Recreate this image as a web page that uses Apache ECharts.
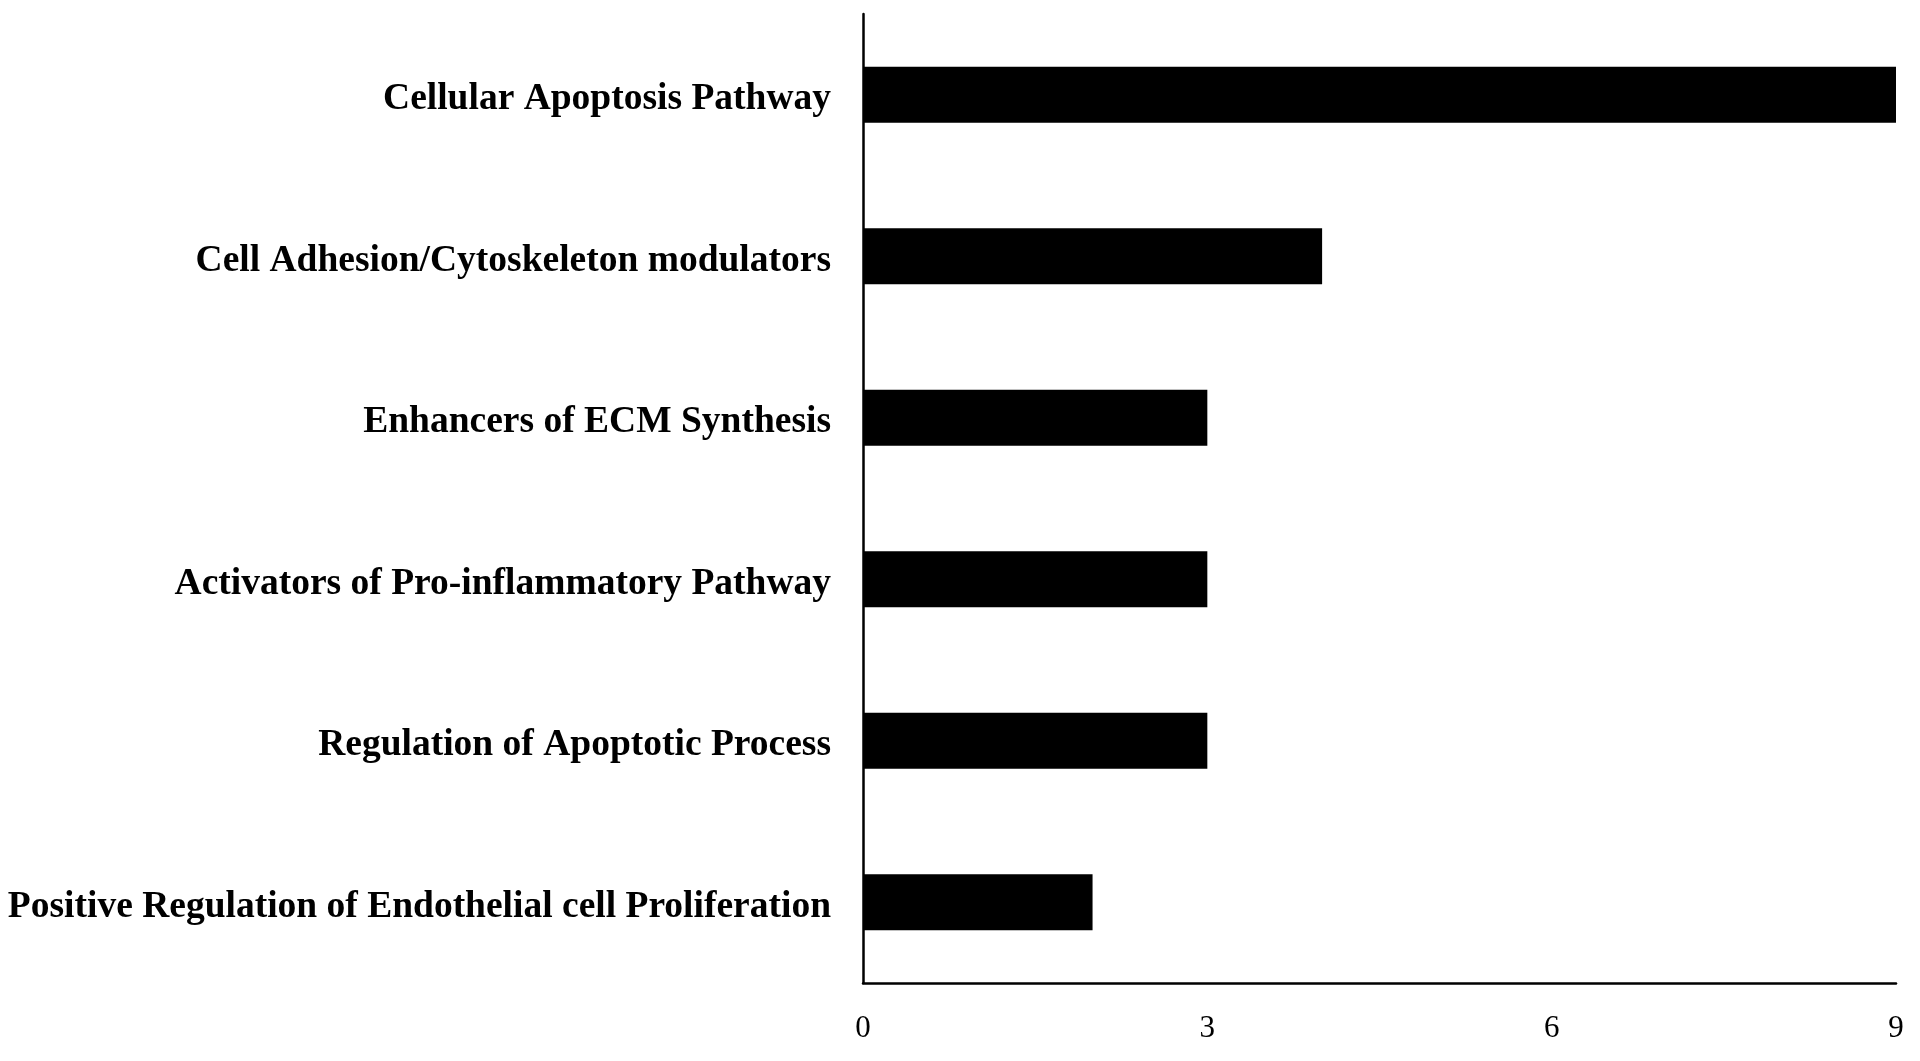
<!DOCTYPE html>
<html>
<head>
<meta charset="utf-8">
<script src="https://cdn.jsdelivr.net/npm/echarts@6/dist/echarts.min.js"></script>
<style>
  html, body { margin: 0; padding: 0; background: #fff; }
  #chart { width: 1920px; height: 1061px; }
</style>
</head>
<body>
<div id="chart"></div>
<script>
// categories from bottom to top (category axis draws first item at the bottom)
var categories = [
  'Positive Regulation of Endothelial cell Proliferation',
  'Regulation of Apoptotic Process',
  'Activators of Pro-inflammatory Pathway',
  'Enhancers of ECM Synthesis',
  'Cell Adhesion/Cytoskeleton modulators',
  'Cellular Apoptosis Pathway'
];
var counts = [2, 3, 3, 3, 4, 9];
var xTicks = [0, 3, 6, 9];

var myChart = echarts.init(document.getElementById('chart'));
var option = {
  animation: false,
  backgroundColor: '#fff',
  grid: { left: 863, right: 24, top: 14, bottom: 78, outerBoundsMode: 'none' },
  xAxis: {
    type: 'value',
    min: xTicks[0],
    max: xTicks[xTicks.length - 1],
    interval: 3,
    axisLine: { show: true, lineStyle: { color: '#000', width: 2.5 } },
    axisTick: { show: false },
    splitLine: { show: false },
    axisLabel: {
      margin: 30,
      color: '#000',
      fontFamily: 'Liberation Serif',
      fontSize: 31
    }
  },
  yAxis: {
    type: 'category',
    data: categories,
    axisLine: { show: true, lineStyle: { color: '#000', width: 2.5 } },
    axisTick: { show: false },
    axisLabel: {
      margin: 32,
      verticalAlign: 'top',
      lineHeight: 38,
      padding: [-14, 0, 0, 0],
      color: '#000',
      fontFamily: 'Liberation Serif',
      fontWeight: 'bold',
      fontSize: 37.5
    }
  },
  series: [{
    type: 'bar',
    data: counts,
    barWidth: 56,
    itemStyle: { color: '#000' }
  }]
};
myChart.setOption(option);
</script>
</body>
</html>
